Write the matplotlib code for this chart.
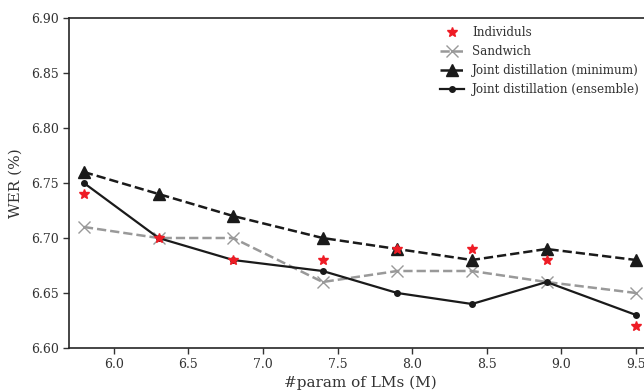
import matplotlib
matplotlib.use("Agg")
import matplotlib.pyplot as plt

# data
params = [5.8, 6.3, 6.8, 7.4, 7.9, 8.4, 8.9, 9.5]
individuals = [6.74, 6.70, 6.68, 6.68, 6.69, 6.69, 6.68, 6.62]
sandwich = [6.71, 6.70, 6.70, 6.66, 6.67, 6.67, 6.66, 6.65]
joint_min = [6.76, 6.74, 6.72, 6.70, 6.69, 6.68, 6.69, 6.68]
joint_ens = [6.75, 6.70, 6.68, 6.67, 6.65, 6.64, 6.66, 6.63]

plt.rcParams['font.family'] = ['DejaVu Serif']
plt.rcParams['text.color'] = '#333333'
plt.rcParams['axes.labelcolor'] = '#333333'
plt.rcParams['xtick.color'] = '#333333'
plt.rcParams['ytick.color'] = '#333333'

fig = plt.figure(figsize=(6.44, 3.90), dpi=100)
ax = fig.add_axes([69 / 644, 42 / 390, (651 - 69) / 644, 330 / 390])

ax.plot(params, individuals, linestyle='none', marker='*', color='#ee1c25',
        markersize=7.5, label='Individuls', zorder=5)
ax.plot(params, sandwich, linestyle='--', marker='x', color='#999999',
        linewidth=1.8, markersize=8, label='Sandwich')
ax.plot(params, joint_min, linestyle='--', marker='^', color='#1a1a1a',
        linewidth=1.8, markersize=8, label='Joint distillation (minimum)')
ax.plot(params, joint_ens, linestyle='-', marker='o', color='#1a1a1a',
        linewidth=1.6, markersize=4, label='Joint distillation (ensemble)')

ax.set_xlim(5.7, 9.6)
ax.set_ylim(6.60, 6.90)
ax.set_xticks([6.0, 6.5, 7.0, 7.5, 8.0, 8.5, 9.0, 9.5])
ax.set_yticks([6.60, 6.65, 6.70, 6.75, 6.80, 6.85, 6.90])
ax.set_yticklabels(['%.2f' % v for v in ax.get_yticks()])
ax.tick_params(labelsize=9, length=4, width=1)
ax.set_xlabel('#param of LMs (M)', fontsize=11, labelpad=3)
ax.set_ylabel('WER (%)', fontsize=11, labelpad=6)
for s in ax.spines.values():
    s.set_linewidth(1.2)
    s.set_color('#262626')

ax.legend(loc='upper right', bbox_to_anchor=(0.995, 1.0), frameon=False,
          fontsize=8.6, handlelength=2.0, handletextpad=0.7, labelspacing=0.5,
          borderaxespad=0.3)

fig.savefig('out.png', dpi=100)
